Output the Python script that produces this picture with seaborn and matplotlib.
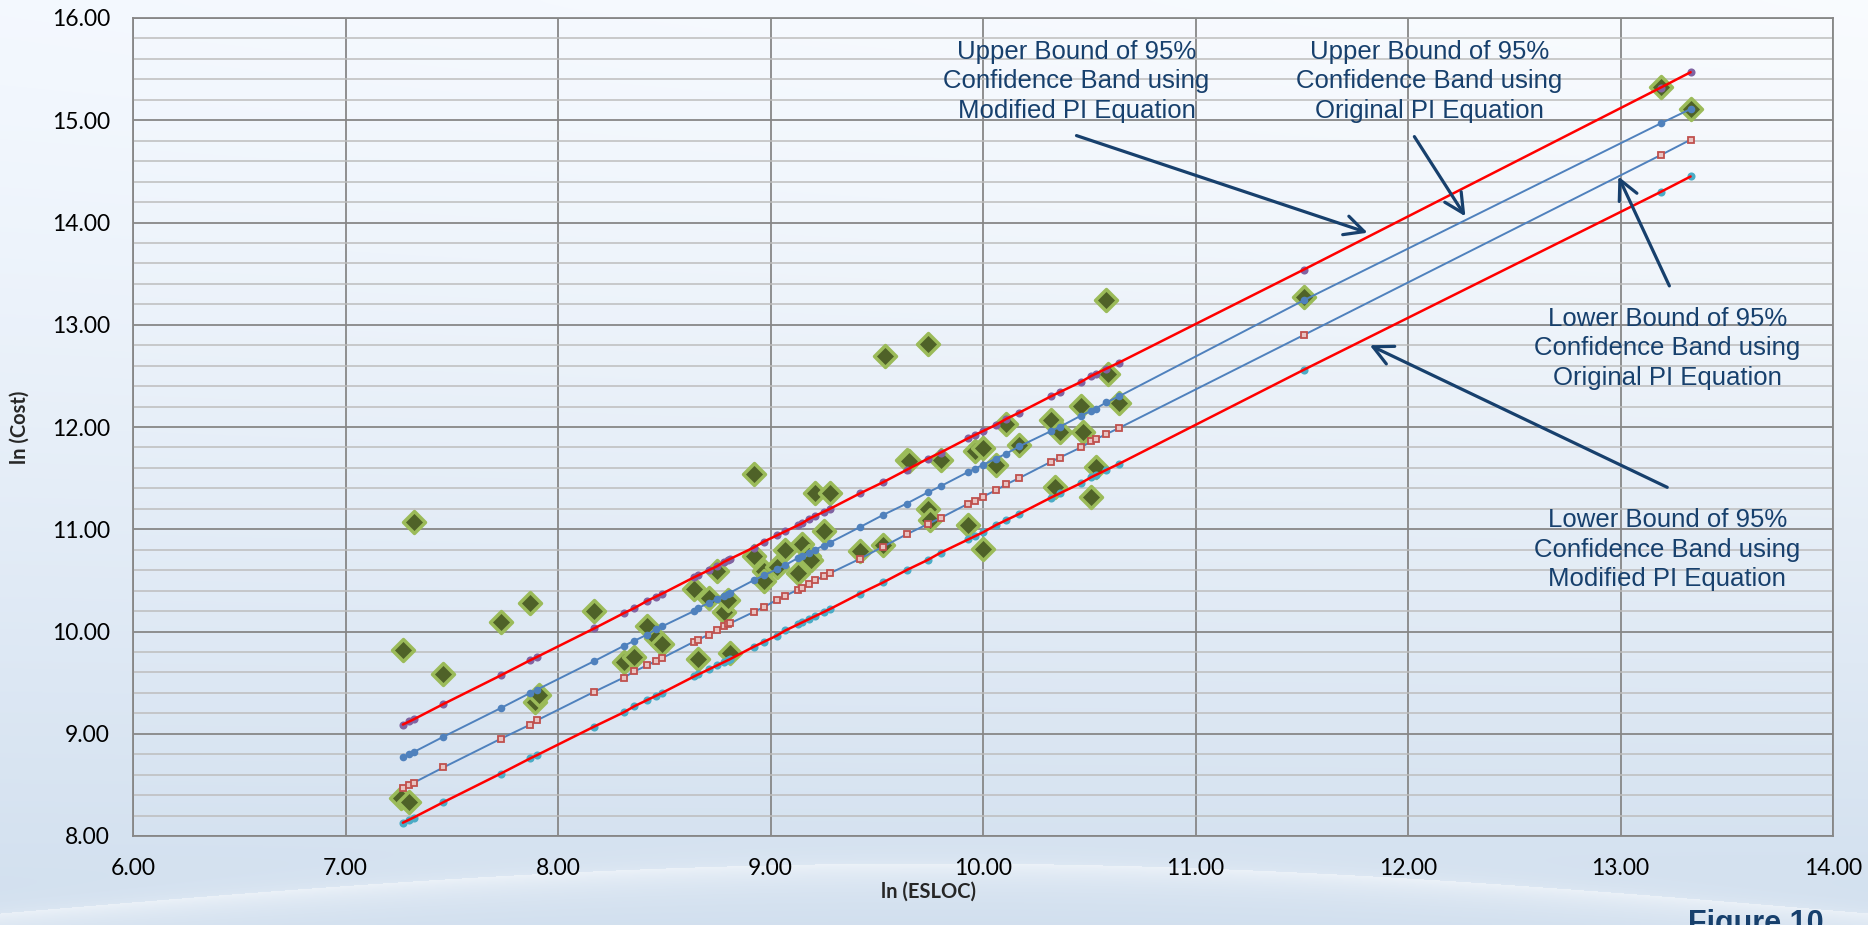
import numpy as np
import matplotlib
matplotlib.use("Agg")
import matplotlib.pyplot as plt
from matplotlib.ticker import MultipleLocator, FormatStrFormatter
import seaborn as sns

# observed projects, ln(ESLOC) vs ln(Cost)
esloc = [7.26, 7.27, 7.30, 7.32, 7.46, 7.73, 7.87, 7.89, 7.91, 8.17,
         8.31, 8.36, 8.42, 8.46, 8.49, 8.64, 8.66, 8.71, 8.75, 8.78,
         8.80, 8.81, 8.92, 8.92, 8.97, 8.97, 9.03, 9.07, 9.13, 9.15,
         9.18, 9.19, 9.21, 9.25, 9.28, 9.42, 9.53, 9.54, 9.64, 9.65,
         9.74, 9.74, 9.75, 9.80, 9.93, 9.96, 10.00, 10.00, 10.06, 10.11,
         10.17, 10.32, 10.34, 10.36, 10.46, 10.47, 10.51, 10.53, 10.58, 10.59,
         10.64, 11.51, 13.19, 13.33]
cost = [8.37, 9.82, 8.33, 11.07, 9.58, 10.09, 10.28, 9.31, 9.38, 10.20,
        9.70, 9.75, 10.05, 9.94, 9.88, 10.42, 9.73, 10.33, 10.59, 10.19,
        10.31, 9.79, 11.54, 10.74, 10.59, 10.49, 10.63, 10.80, 10.57, 10.86,
        10.74, 10.70, 11.35, 10.98, 11.35, 10.79, 10.85, 12.69, 11.68, 11.67,
        11.20, 12.81, 11.09, 11.68, 11.04, 11.77, 11.79, 10.81, 11.63, 12.03,
        11.82, 12.07, 11.41, 11.95, 12.21, 11.95, 11.32, 11.61, 13.24, 12.52,
        12.23, 13.27, 15.33, 15.11]

# confidence band values read at each project size
band_x = [7.27, 7.30, 7.32, 7.46, 7.73, 7.87, 7.90, 8.17, 8.31, 8.36,
          8.42, 8.46, 8.49, 8.64, 8.66, 8.71, 8.75, 8.78, 8.80, 8.81,
          8.92, 8.97, 9.03, 9.07, 9.13, 9.15, 9.18, 9.21, 9.25, 9.28,
          9.42, 9.53, 9.64, 9.74, 9.80, 9.93, 9.96, 10.00, 10.06, 10.11,
          10.17, 10.32, 10.36, 10.46, 10.51, 10.53, 10.58, 10.64, 11.51, 13.19,
          13.33]
upper_mod = [9.09, 9.12, 9.14, 9.29, 9.57, 9.72, 9.75, 10.03, 10.18, 10.23,
             10.30, 10.34, 10.37, 10.53, 10.55, 10.60, 10.64, 10.68, 10.70, 10.71,
             10.82, 10.88, 10.94, 10.98, 11.04, 11.06, 11.10, 11.13, 11.17, 11.20,
             11.35, 11.46, 11.58, 11.69, 11.75, 11.89, 11.92, 11.96, 12.02, 12.08,
             12.14, 12.30, 12.34, 12.44, 12.50, 12.52, 12.57, 12.63, 13.54, 15.32,
             15.47]
upper_orig = [8.77, 8.80, 8.82, 8.97, 9.25, 9.40, 9.43, 9.71, 9.86, 9.91,
              9.97, 10.02, 10.05, 10.20, 10.23, 10.28, 10.32, 10.35, 10.37, 10.38,
              10.50, 10.55, 10.61, 10.65, 10.72, 10.74, 10.77, 10.80, 10.84, 10.87,
              11.02, 11.14, 11.25, 11.36, 11.42, 11.56, 11.59, 11.63, 11.69, 11.74,
              11.81, 11.96, 12.00, 12.11, 12.16, 12.18, 12.24, 12.30, 13.24, 14.97,
              15.11]
lower_orig = [8.47, 8.50, 8.52, 8.67, 8.95, 9.09, 9.13, 9.41, 9.55, 9.61,
              9.67, 9.71, 9.74, 9.90, 9.92, 9.97, 10.01, 10.05, 10.07, 10.08,
              10.19, 10.24, 10.31, 10.35, 10.41, 10.43, 10.46, 10.50, 10.54, 10.57,
              10.71, 10.83, 10.95, 11.05, 11.11, 11.25, 11.28, 11.32, 11.38, 11.44,
              11.50, 11.66, 11.70, 11.80, 11.86, 11.88, 11.93, 11.99, 12.90, 14.66,
              14.81]
lower_mod = [8.13, 8.16, 8.18, 8.33, 8.61, 8.76, 8.79, 9.07, 9.21, 9.27,
             9.33, 9.37, 9.40, 9.56, 9.58, 9.63, 9.67, 9.70, 9.72, 9.73,
             9.85, 9.90, 9.96, 10.01, 10.07, 10.09, 10.12, 10.15, 10.19, 10.22,
             10.37, 10.48, 10.60, 10.70, 10.77, 10.90, 10.93, 10.97, 11.04, 11.09,
             11.15, 11.31, 11.35, 11.45, 11.51, 11.53, 11.58, 11.64, 12.56, 14.30,
             14.45]

navy = "#17406d"

sns.set_style("white")
plt.rcParams['font.family'] = ['Lato', 'DejaVu Sans']

fig = plt.figure(figsize=(18.68, 9.25), dpi=100)

# soft blue background with a light swoosh near the bottom
bg = fig.add_axes([0, 0, 1, 1], zorder=-1)
H, W = 925, 1868
yy, xx = np.mgrid[0:H, 0:W].astype(float)
t = (yy / H) ** 1.3
top = np.array([0.975, 0.985, 0.997])
bot = np.array([0.82, 0.875, 0.935])
img = top + (bot - top) * t[..., None]
img -= 0.02 * (1 - xx / W)[..., None] * (1 - t[..., None]) * np.array([1.0, 0.6, 0.0])
edge = 913 - 50 * np.sin(np.pi * xx / W)
d = yy - edge
glow = np.where(d > 0, 0.55 * np.exp(-d / 18.0), 0.2 * np.exp(d / 10.0))
img = img + (1 - img) * glow[..., None]
bg.imshow(np.clip(img, 0, 1), extent=[0, 1, 0, 1], aspect='auto')
bg.axis('off')

ax = fig.add_axes([133 / 1868, 89 / 925, 1700 / 1868, 818 / 925])
ax.patch.set_alpha(0)

# data points
sns.scatterplot(x=esloc, y=cost, marker='D', s=125, color='#4f6228',
                edgecolor='#9bbb59', linewidth=2.5, zorder=3, ax=ax)

# original PI band (blue lines)
sns.lineplot(x=band_x, y=upper_orig, color='#4f81bd', lw=1.4, marker='o',
             markersize=5.5, markeredgewidth=0, markerfacecolor='#4f81bd',
             estimator=None, sort=False, zorder=4, ax=ax)
sns.lineplot(x=band_x, y=lower_orig, color='#4f81bd', lw=1.4, marker='s',
             markersize=5, markeredgewidth=1.3, markeredgecolor='#c0504d',
             markerfacecolor='#e8c4c3', estimator=None, sort=False, zorder=4, ax=ax)

# modified PI band (red lines over markers)
sns.scatterplot(x=band_x, y=upper_mod, color='#8064a2', s=34, linewidth=0, zorder=4, ax=ax)
sns.scatterplot(x=band_x, y=lower_mod, color='#4bacc6', s=34, linewidth=0, zorder=4, ax=ax)
sns.lineplot(x=band_x, y=upper_mod, color='#ff0000', lw=1.8,
             estimator=None, sort=False, zorder=5, ax=ax)
sns.lineplot(x=band_x, y=lower_mod, color='#ff0000', lw=1.8,
             estimator=None, sort=False, zorder=5, ax=ax)

ax.set_xlim(6, 14)
ax.set_ylim(8, 16)
ax.xaxis.set_major_locator(MultipleLocator(1))
ax.yaxis.set_major_locator(MultipleLocator(1))
ax.yaxis.set_minor_locator(MultipleLocator(0.2))
ax.xaxis.set_major_formatter(FormatStrFormatter('%.2f'))
ax.yaxis.set_major_formatter(FormatStrFormatter('%.2f'))
ax.grid(which='minor', axis='y', color='#bdbdbd', lw=1.1)
ax.grid(which='major', axis='both', color='#878787', lw=1.3)
ax.set_axisbelow(True)
ax.tick_params(which='major', direction='out', length=6.5, width=1.3,
               color='#878787', labelsize=16.5, labelcolor='black')
ax.tick_params(axis='y', pad=10)
ax.tick_params(axis='x', pad=9)
ax.tick_params(which='minor', length=0)
for s in ax.spines.values():
    s.set_color('#878787')
    s.set_linewidth(1.3)

ax.set_xlabel("ln (ESLOC)", fontsize=14.5, fontweight='bold')
ax.set_ylabel("ln (Cost)", fontsize=14.5, fontweight='bold')
ax.xaxis.set_label_coords(0.468, -0.068)
ax.xaxis.label.set_va('center')
ax.yaxis.set_label_coords(-0.0665, 0.5)
ax.yaxis.label.set_va('center')

# callouts
txt = dict(fontsize=18.5, color=navy, ha='center', va='center',
           family=['Liberation Sans', 'DejaVu Sans'], linespacing=1.3, zorder=6)
ax.text(10.44, 15.38, "Upper Bound of 95%\nConfidence Band using\nModified PI Equation", **txt)
ax.text(12.10, 15.38, "Upper Bound of 95%\nConfidence Band using\nOriginal PI Equation", **txt)
ax.text(13.22, 12.77, "Lower Bound of 95%\nConfidence Band using\nOriginal PI Equation", **txt)
ax.text(13.22, 10.80, "Lower Bound of 95%\nConfidence Band using\nModified PI Equation", **txt)

arrow = dict(arrowstyle='->,head_length=0.7,head_width=0.35', color=navy,
             lw=2.3, mutation_scale=20, shrinkA=0, shrinkB=0)
ax.annotate('', xy=(11.81, 13.90), xytext=(10.44, 14.85), arrowprops=arrow, zorder=6)
ax.annotate('', xy=(12.27, 14.06), xytext=(12.03, 14.84), arrowprops=arrow, zorder=6)
ax.annotate('', xy=(12.99, 14.45), xytext=(13.23, 13.38), arrowprops=arrow, zorder=6)
ax.annotate('', xy=(11.82, 12.80), xytext=(13.22, 11.41), arrowprops=arrow, zorder=6)

fig.text(1756 / 1868, -0.008, "Figure 10", fontsize=22, fontweight='bold',
         color=navy, ha='center', va='baseline',
         family=['Liberation Sans', 'DejaVu Sans'])

fig.savefig("out.png", dpi=100)
